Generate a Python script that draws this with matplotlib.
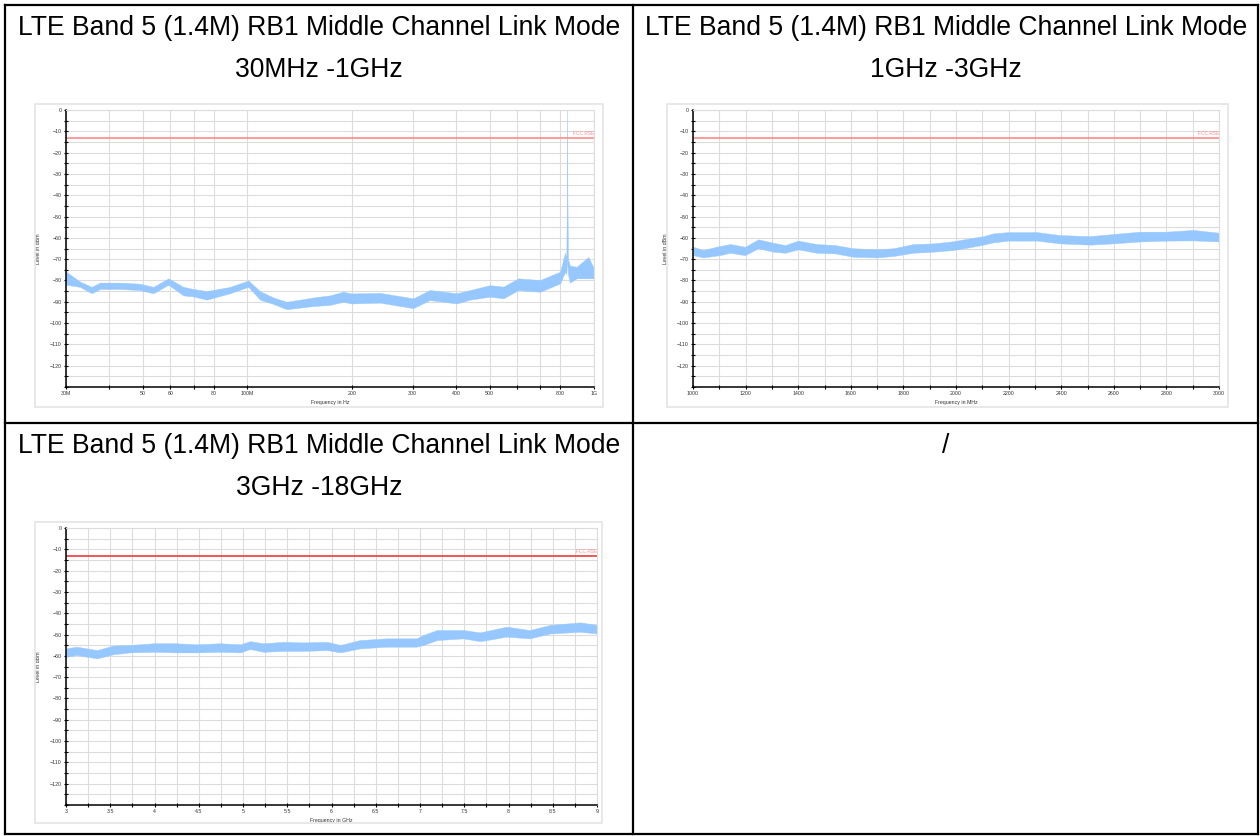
import matplotlib.pyplot as plt
from matplotlib.lines import Line2D
from matplotlib.patches import Rectangle
from matplotlib.ticker import FixedLocator, FixedFormatter, MultipleLocator, NullFormatter

plt.rcParams['font.family'] = ['Liberation Sans', 'DejaVu Sans']

W, H = 1260, 836

# --- data ---
titles = ['LTE Band 5 (1.4M) RB1 Middle Channel Link Mode'] * 3
subtitles = ['30MHz -1GHz', '1GHz -3GHz', '3GHz -18GHz']
empty_cell_text = '/'
limit_level = -13
limit_label = 'FCC RSE'

# chart 1: 30 MHz - 1 GHz (log axis, MHz)
f1 = [30, 30.1, 32.9, 35.6, 37.6, 42.8, 48.9, 53.6, 59.2, 65.4, 69.9, 76.4, 89.2,
      100.7, 108.8, 118.9, 129.9, 155, 173, 189, 200, 241, 301, 336, 402, 439,
      501, 548, 605, 699, 798, 825, 832, 835, 836.5, 838, 841, 852, 891, 963, 1000]
lo1 = [-80, -82, -83, -86, -84, -84, -84.5, -86, -82, -87, -87.5, -89, -86,
       -83, -89, -91, -93.5, -92, -91.5, -90, -90.8, -90.4, -93, -89.2, -90.8, -89,
       -87.6, -88.4, -84.5, -85.3, -81.4, -76, -77, -72, -70, -72, -77, -81, -79, -79, -79]
hi1 = [-75, -76, -80.5, -83, -81, -81, -81.5, -83, -79, -83, -84, -85, -83,
       -80, -85, -88, -90, -88, -87, -85.3, -86.1, -85.8, -88.4, -84.5, -86, -84.5,
       -82.2, -82.9, -79, -79.8, -75.9, -67, -70, -40, 5, -40, -70, -73, -73.6, -69, -74.3]
x1_ticks = [30, 40, 50, 60, 70, 80, 100, 200, 300, 400, 500, 600, 700, 800, 1000]
x1_labels = ['30M', '', '50', '60', '', '80', '100M', '200', '300', '400', '500', '', '', '800', '1G']

# chart 2: 1 GHz - 3 GHz (MHz)
f2 = [1000, 1039, 1103, 1141, 1198, 1248, 1305, 1350, 1400, 1470, 1540, 1610, 1698,
      1762, 1838, 1914, 1990, 2053, 2104, 2142, 2199, 2307, 2395, 2510, 2598, 2700,
      2801, 2902, 3000]
lo2 = [-68.1, -69.2, -68.1, -67, -68.1, -64.9, -66.5, -67, -65.4, -67, -67.3, -68.9, -69.2,
       -68.5, -67, -66.5, -65.7, -64.4, -63.2, -62.1, -61.3, -61.3, -62.6, -63.2, -62.6, -61.7,
       -61.3, -61.2, -61.7]
hi2 = [-64.2, -65.7, -63.8, -62.9, -64.2, -60.7, -62.3, -63.4, -61.3, -62.9, -63.4, -64.9, -65.4,
       -64.9, -62.9, -62.6, -61.6, -60.2, -59.2, -57.9, -57.3, -57.3, -58.7, -59.2, -58.2, -57.1,
       -57.1, -56.3, -57.6]

# chart 3: 3 GHz - 9 GHz (GHz)
f3 = [3.0, 3.12, 3.35, 3.53, 3.72, 3.99, 4.25, 4.48, 4.74, 4.97, 5.08, 5.23, 5.46, 5.68,
      5.95, 6.10, 6.32, 6.62, 6.96, 7.04, 7.19, 7.49, 7.68, 7.98, 8.24, 8.47, 8.81, 9.0]
lo3 = [-60.4, -59.6, -61.2, -59.3, -58.4, -58.1, -58.4, -58.4, -58.1, -58.4, -56.8, -58.1, -57.7, -57.7,
       -57.3, -58.4, -56.5, -55.7, -55.7, -54.9, -52.6, -51.8, -53.1, -51, -51.8, -49.5, -48.7, -49.5]
hi3 = [-56.5, -55.7, -57.3, -55.2, -54.9, -54.1, -54.1, -54.6, -54.1, -54.6, -53.1, -54.1, -53.4, -53.7,
       -53.4, -54.9, -52.6, -51.8, -51.8, -50.2, -47.9, -47.9, -49, -46.3, -47.9, -45.5, -44.3, -45.5]

trace_color = '#96c8ff'
grid_color = '#dcdcdc'


def fx(px):
    return px / W


def fy(py):
    return 1 - py / H


def px_axes(fig, l, t, r, b):
    return fig.add_axes([fx(l), fy(b), fx(r) - fx(l), fy(t) - fy(b)])


fig = plt.figure(figsize=(W / 100, H / 100), dpi=100)

# table lines
for (x0, y0, x1_, y1_) in [(5, 5, 1258, 5), (5, 423, 1258, 423), (5, 834, 1258, 834),
                           (5, 5, 5, 834), (633, 5, 633, 834), (1258, 5, 1258, 834)]:
    fig.add_artist(Line2D([fx(x0), fx(x1_)], [fy(y0), fy(y1_)], color='black', lw=1.6))

# cell titles
for cx, cy, t, s in [(319, 28, titles[0], subtitles[0]), (946, 28, titles[1], subtitles[1]),
                     (319, 446, titles[2], subtitles[2])]:
    fig.text(fx(cx), fy(cy), t, ha='center', va='center', fontsize=19.1)
    fig.text(fx(cx), fy(cy + 42), s, ha='center', va='center', fontsize=19.1)
fig.text(fx(946), fy(446), empty_cell_text, ha='center', va='center', fontsize=19.1)

panels = [
    dict(frame=(35, 104, 603, 407), plot=(66, 110, 594, 387), f=f1, lo=lo1, hi=hi1,
         xlabel='Frequency in Hz', limit_color='#ff8a8a', kind='log'),
    dict(frame=(667, 104, 1228, 407), plot=(693, 110, 1219, 387), f=f2, lo=lo2, hi=hi2,
         xlabel='Frequency in MHz', limit_color='#ff8a8a', kind='mhz'),
    dict(frame=(35, 522, 602, 823), plot=(66, 528, 597, 805), f=f3, lo=lo3, hi=hi3,
         xlabel='Frequency in GHz', limit_color='#ee3a3a', kind='ghz'),
]

for p in panels:
    l, t, r, b = p['frame']
    fig.add_artist(Rectangle((fx(l), fy(b)), fx(r) - fx(l), fy(t) - fy(b),
                             transform=fig.transFigure, fill=False, edgecolor='#e4e4e4', lw=1.2))
    ax = px_axes(fig, *p['plot'])
    ax.fill_between(p['f'], p['lo'], p['hi'], color=trace_color, lw=0.3, edgecolor=trace_color)
    ax.axhline(limit_level, color=p['limit_color'], lw=1.2)
    ax.set_ylim(-130, 0)
    ax.yaxis.set_major_locator(FixedLocator(list(range(0, -121, -10))))
    ax.yaxis.set_minor_locator(MultipleLocator(5))
    if p['kind'] == 'log':
        ax.set_xscale('log')
        ax.set_xlim(30, 1000)
        ax.xaxis.set_major_locator(FixedLocator(x1_ticks))
        ax.xaxis.set_major_formatter(FixedFormatter(x1_labels))
        ax.xaxis.set_minor_locator(FixedLocator([]))
        ax.xaxis.set_minor_formatter(NullFormatter())
    elif p['kind'] == 'mhz':
        ax.set_xlim(1000, 3000)
        ax.xaxis.set_major_locator(MultipleLocator(200))
        ax.xaxis.set_minor_locator(MultipleLocator(100))
    else:
        ax.set_xlim(3, 9)
        ax.xaxis.set_major_locator(MultipleLocator(0.5))
        ax.xaxis.set_minor_locator(MultipleLocator(0.25))
        ax.xaxis.set_major_formatter(plt.FuncFormatter(lambda v, _: f'{v:g}'))
    ax.grid(True, which='both', color=grid_color, lw=0.8)
    ax.set_axisbelow(True)
    for side in ['top', 'right']:
        ax.spines[side].set_color(grid_color)
    for side in ['left', 'bottom']:
        ax.spines[side].set_color('black')
        ax.spines[side].set_linewidth(1.1)
    ax.tick_params(which='both', direction='inout', length=3, width=0.8, labelsize=3.8,
                   labelcolor='#333333', pad=1.5)
    ax.tick_params(which='minor', length=2.5)
    ax.set_ylabel('Level in dBm', fontsize=3.8, color='#333333', labelpad=6)
    ax.set_xlabel(p['xlabel'], fontsize=3.8, color='#333333', labelpad=3)
    ax.text(1.0, limit_level + 1, limit_label, transform=ax.get_yaxis_transform(),
            ha='right', va='bottom', fontsize=3.5, color='#ff8a8a')

fig.savefig('out.png', dpi=100)
